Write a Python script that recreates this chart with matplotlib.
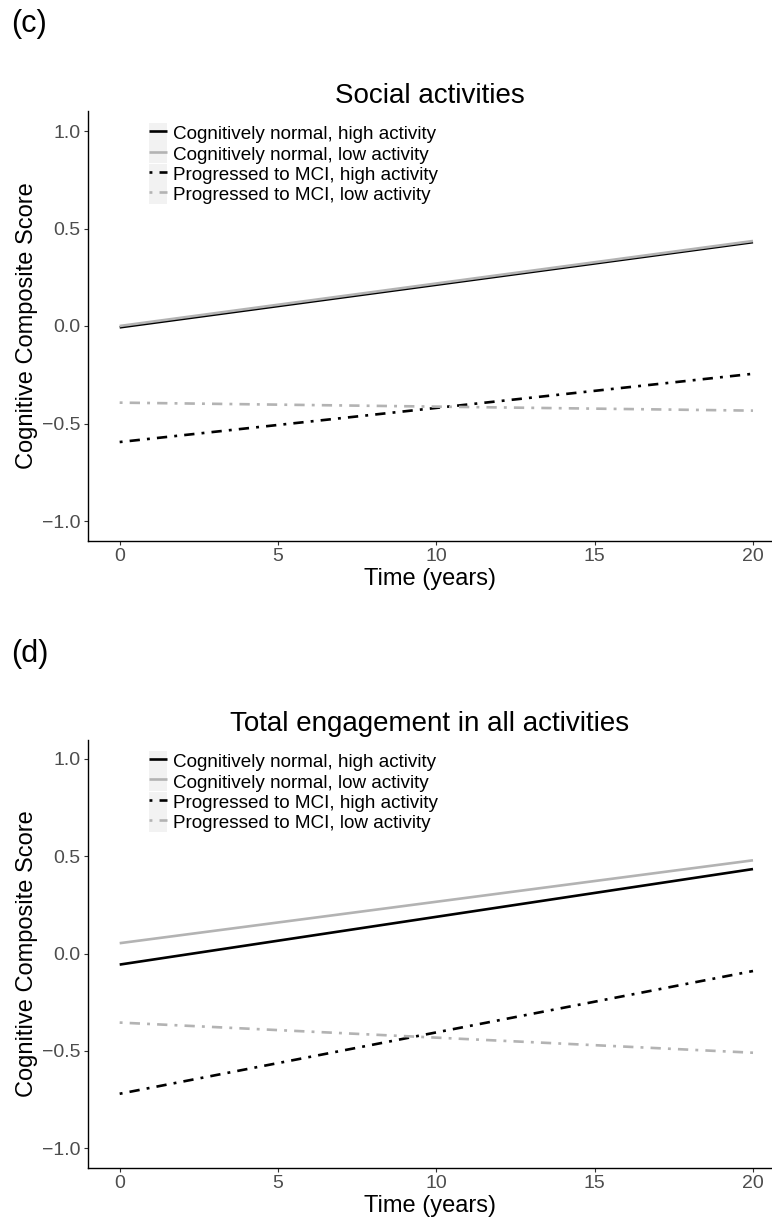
import matplotlib
matplotlib.use("Agg")
import matplotlib.pyplot as plt
from matplotlib.patches import Patch
from matplotlib.legend_handler import HandlerTuple

plt.rcParams['font.family'] = ['Liberation Sans', 'DejaVu Sans']

# ---- data ----
time_years = [0, 20]
series_labels = ["Cognitively normal, high activity",
                 "Cognitively normal, low activity",
                 "Progressed to MCI, high activity",
                 "Progressed to MCI, low activity"]

social_cn_high = [-0.007, 0.430]
social_cn_low = [0.000, 0.436]
social_mci_high = [-0.595, -0.245]
social_mci_low = [-0.393, -0.434]

total_cn_high = [-0.057, 0.434]
total_cn_low = [0.053, 0.479]
total_mci_high = [-0.721, -0.090]
total_mci_low = [-0.355, -0.510]

panel_titles = ["Social activities", "Total engagement in all activities"]
panel_letters = ["(c)", "(d)"]
x_ticks = [0, 5, 10, 15, 20]
y_ticks = [-1.0, -0.5, 0.0, 0.5, 1.0]

BLACK = "#000000"
GREY = "#b3b3b3"
DOTDASH = (1.1, 2.7, 3.9, 2.7)
styles = [dict(color=BLACK, ls='-'),
          dict(color=GREY, ls='-'),
          dict(color=BLACK, dashes=DOTDASH),
          dict(color=GREY, dashes=DOTDASH)]

W, H = 772, 1218
fig = plt.figure(figsize=(W / 100, H / 100), dpi=100)

def frac_axes(top_px, bottom_px, left_px=88, right_px=772):
    return [left_px / W, 1 - bottom_px / H, (right_px - left_px) / W, (bottom_px - top_px) / H]

axes_specs = [frac_axes(111.5, 540.5), frac_axes(739.5, 1167.5)]
data_sets = [
    [social_cn_high, social_cn_low, social_mci_high, social_mci_low],
    [total_cn_high, total_cn_low, total_mci_high, total_mci_low],
]
letter_y = [24, 654]

for i in range(2):
    ax = fig.add_axes(axes_specs[i])
    lines = []
    for vals, st, lab in zip(data_sets[i], styles, series_labels):
        ln, = ax.plot(time_years, vals, lw=1.9, label=lab, solid_capstyle='butt',
                      dash_capstyle='butt', **st)
        lines.append(ln)
    ax.set_xlim(-1, 20.6)
    ax.set_ylim(-1.1, 1.1)
    ax.set_xticks(x_ticks)
    ax.set_xticklabels([str(t) for t in x_ticks])
    ax.set_yticks(y_ticks)
    ax.set_yticklabels([f"{t:.1f}".replace("-", "\u2212") for t in y_ticks])
    for s in ['top', 'right']:
        ax.spines[s].set_visible(False)
    for s in ['left', 'bottom']:
        ax.spines[s].set_linewidth(1.0)
        ax.spines[s].set_color('black')
    ax.tick_params(axis='both', length=3, width=0.8, color='#333333',
                   labelcolor='#4d4d4d', labelsize=14, pad=2.5)
    ax.set_xlabel("Time (years)", fontsize=17, labelpad=2)
    ax.set_ylabel("Cognitive Composite Score", fontsize=17, labelpad=3)
    ax.set_title(panel_titles[i], fontsize=20, pad=6)

    handles = []
    for ln in lines:
        bg = Patch(facecolor='#f2f2f2', edgecolor='none')
        handles.append((bg, ln))
    ax.legend(handles, series_labels, loc='upper left',
              bbox_to_anchor=((149 - 88) / 684, (540.5 - 123) / 429),
              handler_map={tuple: HandlerTuple(ndivide=1, pad=0)},
              frameon=False, fontsize=13.6, handlelength=0.97, handleheight=1.25,
              handletextpad=0.3, labelspacing=0.0, borderpad=0, borderaxespad=0)

    fig.text(11 / W, 1 - letter_y[i] / H, panel_letters[i], fontsize=22,
             ha='left', va='center')

fig.savefig("out.png", dpi=100)
